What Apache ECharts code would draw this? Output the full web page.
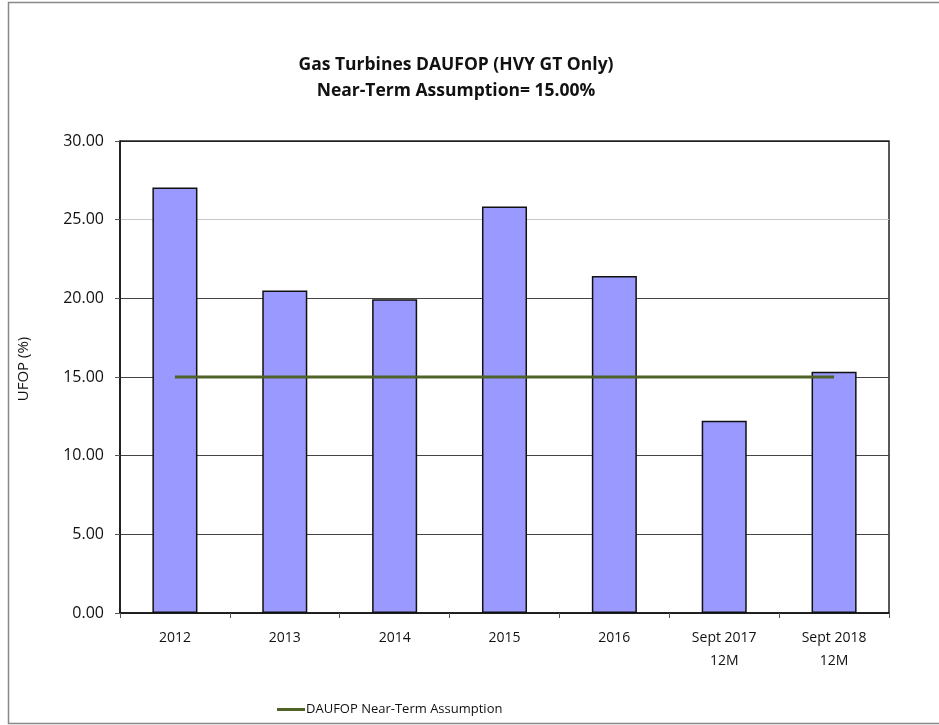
<!DOCTYPE html>
<html>
<head>
<meta charset="utf-8">
<script src="https://cdn.jsdelivr.net/npm/echarts@6/dist/echarts.min.js"></script>
<style>
html,body{margin:0;padding:0;background:#fff;}
#chart{width:939px;height:725px;}
</style>
</head>
<body>
<div id="chart"></div>
<script>
const categories = ['2012', '2013', '2014', '2015', '2016', 'Sept 2017\n12M', 'Sept 2018\n12M'];
const ufopValues = [27.05, 20.50, 19.94, 25.83, 21.42, 12.22, 15.34];
const assumptionValues = [15, 15, 15, 15, 15, 15, 15];
const yTicks = { min: 0, max: 30, interval: 5 };

const FONT = '"Open Sans", "Liberation Sans", sans-serif';
const chart = echarts.init(document.getElementById('chart'), null, { renderer: 'canvas' });
chart.setOption({
  backgroundColor: '#fff',
  animation: false,
  title: {
    text: 'Gas Turbines DAUFOP (HVY GT Only)\nNear-Term Assumption= 15.00%',
    left: 451,
    textAlign: 'center',
    top: 47,
    textStyle: { fontFamily: FONT, fontSize: 17.5, fontWeight: 'bold', color: '#111', lineHeight: 26 }
  },
  legend: {
    data: ['DAUFOP Near-Term Assumption'],
    left: 272,
    top: 698,
    itemWidth: 28,
    itemHeight: 3,
    itemGap: 0,
    icon: 'rect',
    textStyle: { fontFamily: FONT, fontSize: 13, color: '#111', padding: [0, 0, 0, -4] }
  },
  grid: {
    left: 120, right: 50, top: 141, bottom: 112,
    show: true, borderColor: '#222', borderWidth: 1.5, backgroundColor: '#fff'
  },
  xAxis: {
    type: 'category',
    data: categories,
    boundaryGap: true,
    axisLine: { lineStyle: { color: '#111', width: 1.5 } },
    axisTick: { show: true, length: 5, lineStyle: { color: '#555' } },
    axisLabel: { fontFamily: FONT, fontSize: 14, color: '#111', margin: 14, lineHeight: 23, interval: 0 },
    splitLine: { show: false }
  },
  yAxis: {
    type: 'value',
    min: yTicks.min, max: yTicks.max, interval: yTicks.interval,
    name: 'UFOP (%)',
    nameLocation: 'middle',
    nameGap: 89,
    nameRotate: 90,
    nameTextStyle: { fontFamily: FONT, fontSize: 15, color: '#111', padding: [0, 0, 0, 16] },
    axisLine: { show: true, lineStyle: { color: '#111', width: 1.5 } },
    axisTick: { show: true, length: 5, lineStyle: { color: '#555' } },
    axisLabel: {
      fontFamily: FONT, fontSize: 16, color: '#111', margin: 16,
      formatter: v => v.toFixed(2)
    },
    splitLine: {
      show: true,
      lineStyle: { width: 1.2, color: ['#444', '#444', '#444', '#444', '#444', '#c8c8c8', '#222'] }
    }
  },
  series: [
    {
      name: 'UFOP',
      type: 'bar',
      data: ufopValues,
      barWidth: '41%',
      itemStyle: { color: '#9999ff', borderColor: '#111', borderWidth: 1.5 },
      z: 2
    },
    {
      name: 'DAUFOP Near-Term Assumption',
      type: 'line',
      data: assumptionValues,
      symbol: 'none',
      lineStyle: { color: '#4f6228', width: 3 },
      itemStyle: { color: '#4f6228' },
      z: 3
    }
  ],
  graphic: [
    {
      type: 'rect',
      shape: { x: 8.5, y: 2.5, width: 945, height: 721 },
      style: { fill: 'none', stroke: '#888', lineWidth: 1.5 },
      silent: true
    }
  ]
});
</script>
</body>
</html>
